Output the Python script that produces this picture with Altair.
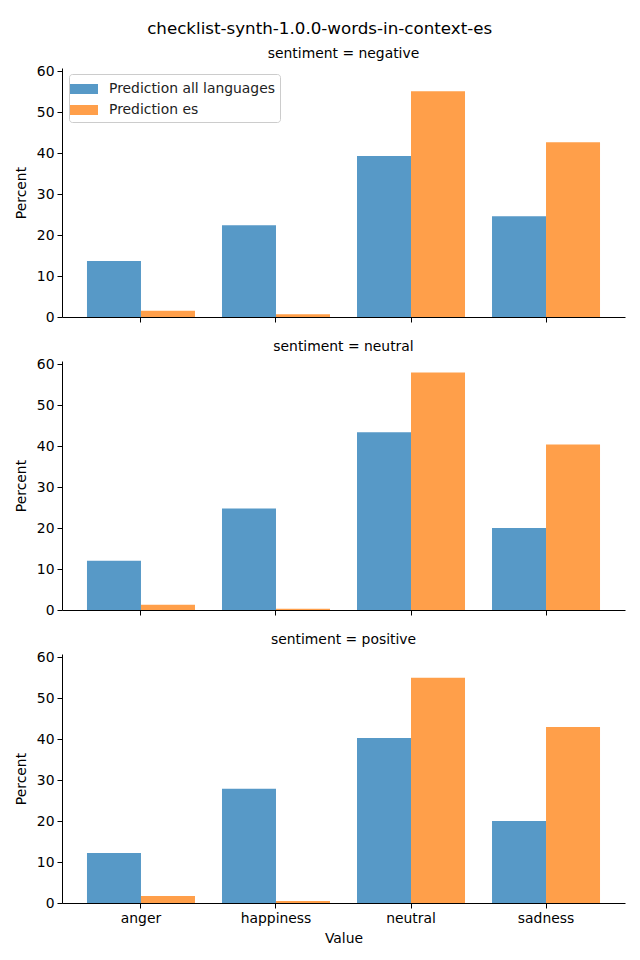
import altair as alt
import pandas as pd

title = "checklist-synth-1.0.0-words-in-context-es"
categories = ["anger", "happiness", "neutral", "sadness"]
sentiments = ["negative", "neutral", "positive"]
series = ["Prediction all languages", "Prediction es"]

all_lang = {
    "negative": [13.7, 22.4, 39.3, 24.6],
    "neutral": [12.0, 24.8, 43.4, 20.0],
    "positive": [12.2, 27.9, 40.3, 20.0],
}
es = {
    "negative": [1.5, 0.7, 55.1, 42.7],
    "neutral": [1.3, 0.3, 58.0, 40.4],
    "positive": [1.7, 0.5, 55.0, 43.0],
}

colors = ["#5799C7", "#FF9F4A"]
font = "DejaVu Sans"

rows = []
for s in sentiments:
    for i, c in enumerate(categories):
        rows.append({"sentiment": s, "Value": c, "series": series[0], "Percent": all_lang[s][i]})
        rows.append({"sentiment": s, "Value": c, "series": series[1], "Percent": es[s][i]})
df = pd.DataFrame(rows)


def panel(s, last, first):
    d = df[df.sentiment == s]
    xaxis = alt.Axis(
        title="Value" if last else None,
        labels=last,
        labelAngle=0,
        labelFontSize=13.9,
        titleFontSize=13.9,
        titleFontWeight="normal",
        tickSize=5,
        labelPadding=3,
        titlePadding=7,
    )
    legend = (
        alt.Legend(
            title=None,
            orient="none",
            legendX=7,
            legendY=6,
            labelFontSize=13.9,
            labelFont=font,
            labelColor="#222",
            labelLimit=0,
            symbolType="M-1.4,-0.5H1.4V0.5H-1.4Z",
            symbolSize=400,
            symbolStrokeWidth=0,
            symbolOpacity=1,
            fillColor="white",
            strokeColor="#cccccc",
            cornerRadius=3,
            padding=5,
            rowPadding=4,
            labelOffset=15,
        )
        if first
        else None
    )
    return (
        alt.Chart(d)
        .mark_bar(opacity=1)
        .encode(
            x=alt.X(
                "Value:N",
                sort=categories,
                scale=alt.Scale(paddingInner=0.2, paddingOuter=0.185),
                axis=xaxis,
            ),
            xOffset=alt.XOffset("series:N", sort=series),
            y=alt.Y(
                "Percent:Q",
                scale=alt.Scale(domain=[0, 60.8], nice=False),
                axis=alt.Axis(
                    title="Percent",
                    values=[0, 10, 20, 30, 40, 50, 60],
                    labelFontSize=13.9,
                    titleFontSize=13.9,
                    titleFontWeight="normal",
                    tickSize=5,
                    labelPadding=3,
                    titlePadding=8,
                ),
            ),
            color=alt.Color(
                "series:N",
                scale=alt.Scale(domain=series, range=colors),
                legend=legend,
            ),
        )
        .properties(
            width=563,
            height=249,
            title=alt.TitleParams(
                text=f"sentiment = {s}",
                fontSize=13.9,
                fontWeight="normal",
                font=font,
                anchor="middle",
                offset=3,
            ),
        )
    )


chart = (
    alt.vconcat(
        *[panel(s, i == len(sentiments) - 1, i == 0) for i, s in enumerate(sentiments)],
        spacing=16,
    )
    .properties(
        title=alt.TitleParams(text=title, fontSize=16.7, fontWeight="normal", font=font, anchor="middle", offset=10),
        padding={"left": 14, "top": 20, "right": 9, "bottom": 10},
    )
    .configure_view(strokeWidth=0)
    .configure_axis(
        grid=False,
        domainColor="black",
        tickColor="black",
        labelColor="black",
        titleColor="black",
        labelFont=font,
        titleFont=font,
    )
    .configure_title(color="black")
)

chart.save("out.html", embed_options={"renderer": "svg", "actions": False})
